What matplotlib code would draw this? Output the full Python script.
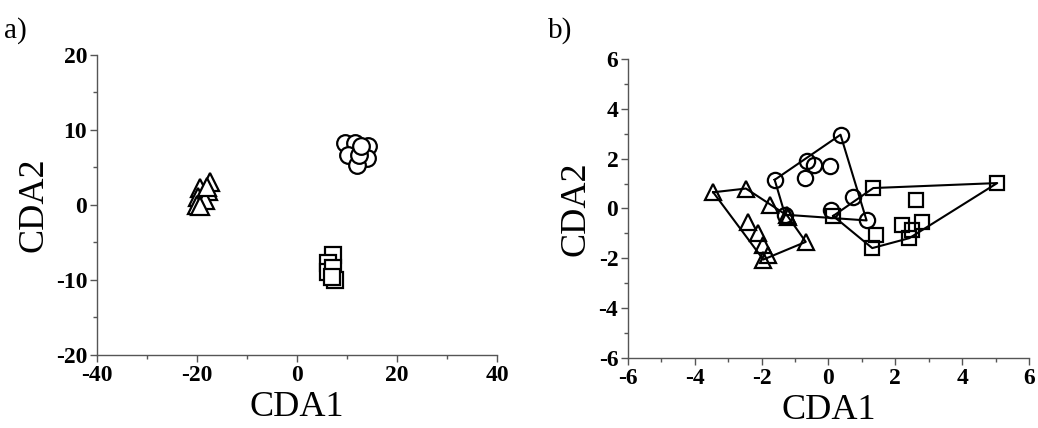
import numpy as np
import matplotlib
matplotlib.use('Agg')
import matplotlib.pyplot as plt
from matplotlib.ticker import MultipleLocator

# panel a) CDA scores
a_circ_x = [9.7, 11.7, 14.3, 10.3, 12.7, 14.0, 12.0, 12.5, 12.8]
a_circ_y = [8.2, 8.3, 7.9, 6.7, 6.5, 6.2, 5.3, 6.7, 7.8]
a_tri_x = [-17.3, -19.3, -17.7, -19.7, -18.3, -20.0, -19.3, -18.0]
a_tri_y = [3.1, 2.2, 1.8, 1.1, 0.7, 0.0, -0.2, 2.4]
a_sq_x = [7.3, 6.3, 6.3, 7.3, 7.7, 7.0]
a_sq_y = [-6.7, -7.8, -8.9, -8.4, -10.0, -9.6]

# panel b) CDA scores
b_circ_x = [0.36, -1.61, -0.64, -0.44, -0.71, 0.04, 0.72, 0.09, 1.14, -1.30]
b_circ_y = [2.96, 1.15, 1.91, 1.75, 1.22, 1.69, 0.45, -0.05, -0.48, -0.25]
b_tri_x = [-3.45, -2.47, -1.75, -1.25, -1.20, -2.40, -2.10, -1.95, -1.80, -1.95, -0.68]
b_tri_y = [0.65, 0.80, 0.14, -0.27, -0.35, -0.53, -1.00, -1.47, -1.87, -2.05, -1.34]
b_sq_x = [1.34, 5.05, 2.61, 2.19, 2.42, 2.49, 2.81, 1.42, 1.31, 0.14]
b_sq_y = [0.82, 1.02, 0.35, -0.66, -1.19, -0.86, -0.56, -1.06, -1.59, -0.30]


def hull(xs, ys):
    # monotone chain convex hull, returns closed polygon
    pts = sorted(zip(xs, ys))

    def cross(o, a, b):
        return (a[0] - o[0]) * (b[1] - o[1]) - (a[1] - o[1]) * (b[0] - o[0])

    lower, upper = [], []
    for p in pts:
        while len(lower) >= 2 and cross(lower[-2], lower[-1], p) <= 0:
            lower.pop()
        lower.append(p)
    for p in reversed(pts):
        while len(upper) >= 2 and cross(upper[-2], upper[-1], p) <= 0:
            upper.pop()
        upper.append(p)
    h = lower[:-1] + upper[:-1]
    h.append(h[0])
    return [p[0] for p in h], [p[1] for p in h]


plt.rcParams['font.family'] = 'Liberation Serif'
plt.rcParams['axes.unicode_minus'] = False

fig = plt.figure(figsize=(10.38, 4.28), dpi=100)
ax1 = fig.add_axes([0.0934, 0.1706, 0.3854, 0.701])
ax2 = fig.add_axes([0.605, 0.1636, 0.3863, 0.6986])

mk = dict(linestyle='none', markerfacecolor='white', markeredgecolor='black',
          markeredgewidth=1.6, clip_on=False)

ax1.plot(a_tri_x, a_tri_y, marker='^', markersize=13, **mk)
ax1.plot(a_circ_x, a_circ_y, marker='o', markersize=12, **mk)
ax1.plot(a_sq_x, a_sq_y, marker='s', markersize=11, **mk)

for xs, ys in [(b_tri_x, b_tri_y), (b_circ_x, b_circ_y), (b_sq_x, b_sq_y)]:
    hx, hy = hull(xs, ys)
    ax2.plot(hx, hy, color='black', lw=1.5, zorder=3)
ax2.plot(b_tri_x, b_tri_y, marker='^', markersize=11, zorder=4, markerfacecolor='none',
         linestyle='none', markeredgecolor='black', markeredgewidth=1.6)
ax2.plot(b_circ_x, b_circ_y, marker='o', markersize=11, zorder=4, markerfacecolor='none',
         linestyle='none', markeredgecolor='black', markeredgewidth=1.6)
ax2.plot(b_sq_x, b_sq_y, marker='s', markersize=10, zorder=4, markerfacecolor='none',
         linestyle='none', markeredgecolor='black', markeredgewidth=1.6)

ax1.set_xlim(-40, 40)
ax1.set_ylim(-20, 20)
ax1.xaxis.set_major_locator(MultipleLocator(20))
ax1.xaxis.set_minor_locator(MultipleLocator(10))
ax1.yaxis.set_major_locator(MultipleLocator(10))
ax1.yaxis.set_minor_locator(MultipleLocator(5))

ax2.set_xlim(-6, 6)
ax2.set_ylim(-6, 6)
ax2.xaxis.set_major_locator(MultipleLocator(2))
ax2.xaxis.set_minor_locator(MultipleLocator(1))
ax2.yaxis.set_major_locator(MultipleLocator(2))
ax2.yaxis.set_minor_locator(MultipleLocator(1))

for ax in (ax1, ax2):
    ax.spines['top'].set_visible(False)
    ax.spines['right'].set_visible(False)
    for s in ('left', 'bottom'):
        ax.spines[s].set_color('#555555')
        ax.spines[s].set_linewidth(1.0)
    ax.tick_params(which='major', direction='out', length=5, width=1.0, color='#555555',
                   labelsize=17, pad=2)
    ax.tick_params(which='minor', direction='out', length=3, width=1.0, color='#555555')
    for lab in ax.get_xticklabels() + ax.get_yticklabels():
        lab.set_fontweight('bold')
    ax.set_xlabel('CDA1', fontsize=26, labelpad=4)
    ax.set_ylabel('CDA2', fontsize=26, labelpad=4)

fig.text(0.004, 0.96, 'a)', fontsize=21, va='top')
fig.text(0.528, 0.96, 'b)', fontsize=21, va='top')

fig.savefig('out.png', dpi=100)
